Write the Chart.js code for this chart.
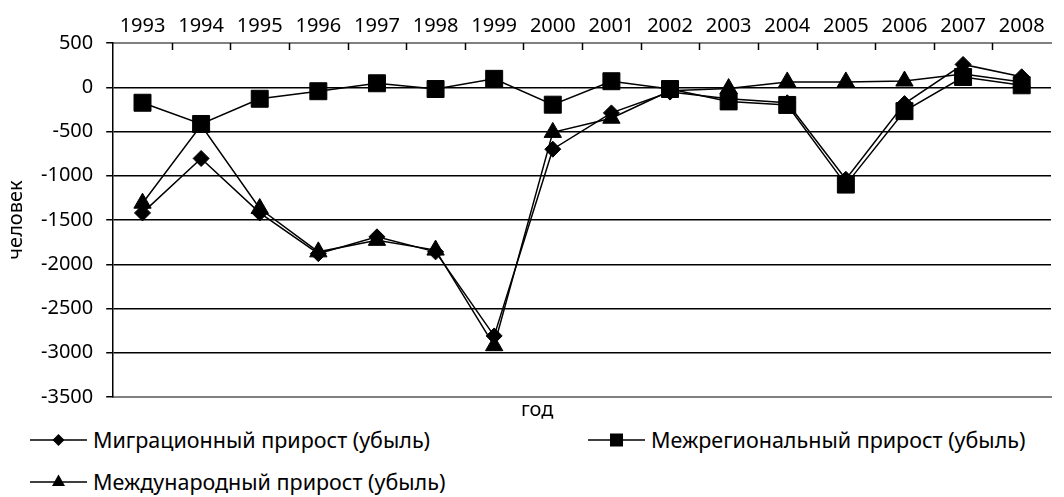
<!DOCTYPE html>
<html>
<head>
<meta charset="utf-8">
<script src="https://cdn.jsdelivr.net/npm/chart.js@4.4.0/dist/chart.umd.min.js"></script>
<style>
    body { margin: 0; background: #fff; width: 1064px; height: 497px; overflow: hidden; position: relative; font-family: "Noto Sans", sans-serif; color: #000; }
    #wrap { position: absolute; left: 0; top: 0; width: 1064px; height: 422px; }
    #xTitle { position: absolute; left: 521px; top: 397px; font-size: 20px; line-height: 24px; }
    .legend-item { position: absolute; display: flex; align-items: center; font-size: 21.5px; line-height: 24px; white-space: nowrap; }
    .legend-item svg { margin-right: 6px; }
</style>
</head>
<body>
<div id="wrap"><canvas id="migrationChart"></canvas></div>
<div id="xTitle">год</div>
<div id="legend"></div>

<script>
var years = ['1993', '1994', '1995', '1996', '1997', '1998', '1999', '2000',
             '2001', '2002', '2003', '2004', '2005', '2006', '2007', '2008'];
var migration     = [-1420, -805, -1420, -1880, -1690, -1860, -2810, -700, -290, -55, -130, -175, -1040, -185, 258, 118];
var interregional = [-175, -415, -130, -45, 45, -20, 95, -197, 68, -20, -160, -200, -1100, -270, 116, 22];
var international = [-1310, -430, -1370, -1860, -1730, -1840, -2920, -510, -350, -40, -15, 60, 60, 70, 150, 60];
var yTicks = [500, 0, -500, -1000, -1500, -2000, -2500, -3000, -3500];

var seriesNames = ['Миграционный прирост (убыль)', 'Межрегиональный прирост (убыль)', 'Международный прирост (убыль)'];

// small tick marks pointing down from the top axis, between the years
var innerTicks = {
    id: 'innerTicks',
    beforeDatasetsDraw: function (chart) {
        var x = chart.scales.x;
        var ctx = chart.ctx;
        var top = chart.chartArea.top;
        ctx.save();
        ctx.strokeStyle = '#000';
        ctx.lineWidth = 1.5;
        for (var i = 1; i < years.length; i++) {
            var px = Math.round((x.getPixelForValue(i - 1) + x.getPixelForValue(i)) / 2) + 0.5;
            ctx.beginPath();
            ctx.moveTo(px, top);
            ctx.lineTo(px, top + 7);
            ctx.stroke();
        }
        ctx.restore();
    }
};

function lineSet(name, values, style, radius) {
    return {
        label: name,
        data: values,
        borderColor: '#000',
        backgroundColor: '#000',
        borderWidth: 1.5,
        pointStyle: style,
        pointRadius: radius,
        pointBorderWidth: 1,
        pointBackgroundColor: '#000',
        tension: 0
    };
}

var migrationChart = new Chart(document.getElementById('migrationChart'), {
    type: 'line',
    data: {
        labels: years,
        datasets: [
            lineSet(seriesNames[0], migration, 'rectRot', 8),
            lineSet(seriesNames[1], interregional, 'rect', 12),
            lineSet(seriesNames[2], international, 'triangle', 10)
        ]
    },
    options: {
        responsive: true,
        maintainAspectRatio: false,
        animation: false,
        layout: { padding: { top: 9, right: 0, left: 0, bottom: 0 } },
        plugins: {
            legend: { display: false },
            tooltip: { enabled: false }
        },
        scales: {
            x: {
                position: 'top',
                offset: true,
                grid: { display: true, drawOnChartArea: false, drawTicks: false, offset: true },
                border: { display: true, color: '#808080', width: 2 },
                ticks: { color: '#000', font: { family: 'Noto Sans', size: 20 }, padding: 5, maxRotation: 0, autoSkip: false }
            },
            xb: {
                type: 'category',
                labels: years,
                position: 'bottom',
                offset: true,
                grid: { display: false, drawTicks: false },
                border: { display: true, color: '#808080', width: 2 },
                ticks: { display: false }
            },
            y: {
                min: -3500,
                max: 500,
                afterBuildTicks: function (axis) {
                    axis.ticks = yTicks.map(function (v) { return { value: v }; });
                },
                grid: {
                    color: function (c) {
                        if (c.tick && (c.tick.value === 500 || c.tick.value === -3500)) return 'rgba(0,0,0,0)';
                        return '#000';
                    },
                    lineWidth: 1.5,
                    tickColor: '#000',
                    tickLength: 7
                },
                border: { display: true, color: '#000', width: 1.5 },
                ticks: {
                    color: '#000',
                    font: { family: 'Noto Sans', size: 20 },
                    padding: 13,
                    callback: function (value) { return String(value); }
                },
                title: {
                    display: true,
                    text: 'человек',
                    color: '#000',
                    font: { family: 'Noto Sans', size: 20 },
                    padding: { top: 4, bottom: 0 }
                }
            }
        }
    },
    plugins: [innerTicks]
});

// legend: line + marker, like the chart itself
var legendPlaces = [[30, 428], [588, 428], [30, 470]];
var markerSvg = [
    '<polygon points="28.5,4 34.5,10 28.5,16 22.5,10" />',
    '<rect x="22" y="3.5" width="13" height="13" />',
    '<polygon points="28.5,2.5 35,14 22,14" />'
];
var legendBox = document.getElementById('legend');
seriesNames.forEach(function (name, i) {
    var item = document.createElement('div');
    item.className = 'legend-item';
    item.style.left = legendPlaces[i][0] + 'px';
    item.style.top = legendPlaces[i][1] + 'px';
    item.innerHTML = '<svg width="57" height="20"><line x1="0" y1="10" x2="57" y2="10" stroke="#000" stroke-width="1.5"/>' +
        '<g fill="#000">' + markerSvg[i] + '</g></svg><span>' + name + '</span>';
    legendBox.appendChild(item);
});
</script>
</body>
</html>
